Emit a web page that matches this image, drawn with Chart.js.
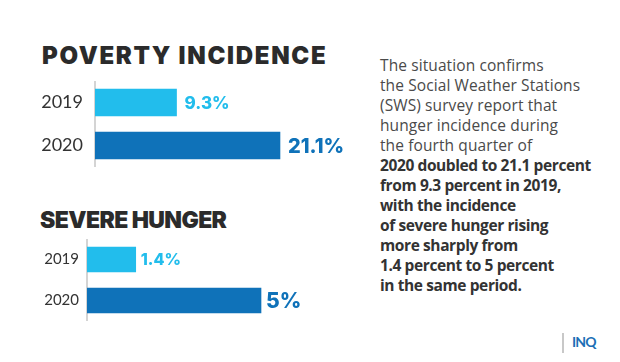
<!DOCTYPE html>
<html><head><meta charset="utf-8">
<script src="https://cdn.jsdelivr.net/npm/chart.js@4/dist/chart.umd.min.js"></script>
<style>
html,body{margin:0;padding:0;background:#fff;width:620px;height:362px;overflow:hidden;position:relative;}
.t{position:absolute;font-family:Inter,sans-serif;font-weight:900;color:#2b2b2b;font-size:23px;line-height:24px;white-space:nowrap;}
#para{position:absolute;left:380px;top:55px;font-family:"Open Sans",sans-serif;font-size:15.5px;letter-spacing:0.1px;line-height:20px;color:#4a4a4a;white-space:nowrap;}
#para b{color:#333;font-weight:700;letter-spacing:-0.4px}
canvas{position:absolute;left:0;}
#logo{position:absolute;left:562px;top:333px;width:2px;height:20px;background:#c8c8c8;}
#inq{position:absolute;left:572px;top:335px;font-family:Lato,sans-serif;font-weight:700;font-size:14px;line-height:14px;letter-spacing:-0.8px;color:#1c6fb6;}
</style></head><body>
<div class="t" style="left:42px;top:44px;font-size:24px;letter-spacing:1.7px">POVERTY INCIDENCE</div>
<div class="t" style="left:40px;top:208px;letter-spacing:-0.6px">SEVERE HUNGER</div>
<canvas id="c1" width="358" height="86" style="top:81px"></canvas>
<canvas id="c2" width="348" height="82" style="top:239px"></canvas>
<div id="para">The situation confirms<br>the Social Weather Stations<br>(SWS) survey report that<br>hunger incidence during<br>the fourth quarter of<br><b>2020 doubled to 21.1 percent<br>from 9.3 percent in 2019,<br>with the incidence<br>of severe hunger rising<br>more sharply from<br>1.4 percent to 5 percent<br>in the same period.</b></div>
<div id="logo"></div><div id="inq">INQ</div>
<script>
const years = ['2019', '2020'];
const povertyValues = [9.3, 21.1];
const hungerValues = [1.4, 5];
const barColors = ['#22bdec', '#0f72b9'];

const valueLabels = {
  id: 'valueLabels',
  afterDatasetsDraw(chart, args, o) {
    const ctx = chart.ctx;
    const ds = chart.data.datasets[0];
    chart.getDatasetMeta(0).data.forEach((bar, i) => {
      ctx.save();
      ctx.font = '800 ' + o.sizes[i] + 'px Inter';
      ctx.fillStyle = barColors[i];
      ctx.textAlign = 'left';
      ctx.textBaseline = 'middle';
      ctx.fillText(ds.data[i] + '%', bar.x + o.gap, bar.y + 1);
      ctx.restore();
    });
  }
};

function makeChart(id, values, max, cfg) {
  return new Chart(document.getElementById(id), {
    type: 'bar',
    data: { labels: years, datasets: [{ data: values, backgroundColor: barColors, borderWidth: 0, barThickness: cfg.thick }] },
    options: {
      indexAxis: 'y', responsive: false, animation: false,
      layout: { padding: 0 },
      plugins: { legend: { display: false }, tooltip: { enabled: false }, valueLabels: { sizes: cfg.labelSizes, gap: cfg.gap } },
      scales: {
        x: { display: false, min: 0, max: max },
        y: {
          grid: { display: false, drawTicks: false },
          border: { color: '#d4d4d4', width: 2 },
          ticks: { color: '#333', font: { family: 'Lato', size: cfg.tickSize }, padding: cfg.tickPad },
          afterFit: s => { s.width = cfg.axisW; s.paddingTop = 0; s.paddingBottom = 0; }
        }
      }
    },
    plugins: [valueLabels]
  });
}

makeChart('c1', povertyValues, 30, { thick: 27, labelSizes: [17, 20], gap: 8, tickSize: 18, tickPad: 12, axisW: 95 });
makeChart('c2', hungerValues, 7.5, { thick: 25, labelSizes: [16, 21], gap: 5, tickSize: 15, tickPad: 8, axisW: 87 });
</script>
</body></html>
